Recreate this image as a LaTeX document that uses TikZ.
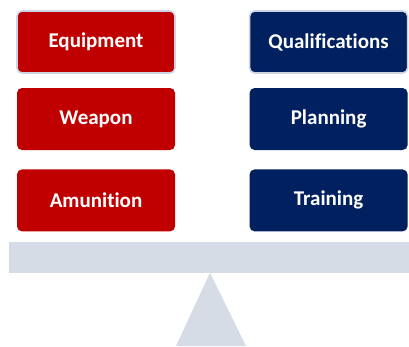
\documentclass[tikz,border=0pt]{standalone}
\usepackage{fontspec}
\setmainfont[Ligatures=NoCommon]{Carlito}
\usetikzlibrary{
  positioning,
  calc
}
\definecolor{armyred}{HTML}{C00000}
\definecolor{armyblue}{HTML}{002060}
\definecolor{beamgrey}{HTML}{D6DCE5}
\definecolor{glowgrey}{HTML}{CDD5E4}

\begin{document}
\begin{tikzpicture}[x=1pt, y=-1pt,
    box/.style = {rectangle, rounded corners=5pt, minimum width=158pt,
      minimum height=62pt, text=white, inner sep=0pt,
      font=\fontsize{21}{24}\selectfont\bfseries},
    redbox/.style = {box, fill=armyred},
    bluebox/.style = {box, fill=armyblue},
    glow/.style = {draw=glowgrey, line width=1.6pt}]
    \useasboundingbox (0,0) rectangle (409,346);

    \node[redbox, glow] (equip) at (96,42) {Equipment};
    \node[redbox, below = 14pt of equip] (weapon) {Weapon};
    \node[redbox, below = 19pt of weapon] (ammo) {Amunition};
    \node[bluebox, glow, right = 73pt of equip] (qual) {Qualifications};
    \node[bluebox, below = 14pt of qual] (plan) {Planning};
    \node[bluebox, below = 19pt of plan] (train) {Training};

    % balance
    \node[rectangle, fill=beamgrey, minimum width=400pt, minimum height=31pt,
      inner sep=0pt] (beam) at (209,257) {};
    \fill[beamgrey] ($(beam.south)+(1,0)$) -- (176,346) -- (246,346) -- cycle;
  \end{tikzpicture}
\end{document}
